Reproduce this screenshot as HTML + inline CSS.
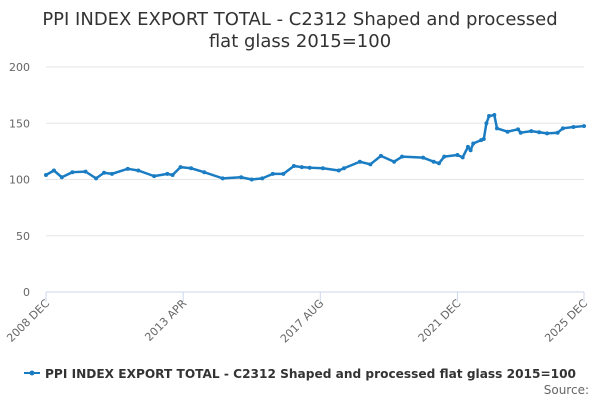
<!DOCTYPE html>
<html><head><meta charset="utf-8"><style>
body{margin:0;background:#fff;font-family:"DejaVu Sans","Liberation Sans",sans-serif;}
</style></head><body>
<svg id="chart" width="600" height="400" xmlns="http://www.w3.org/2000/svg" font-family="DejaVu Sans, Liberation Sans, sans-serif">
<text x="300" y="25" text-anchor="middle" font-size="18" fill="#333">PPI INDEX EXPORT TOTAL - C2312 Shaped and processed</text>
<text x="300" y="47" text-anchor="middle" font-size="18" fill="#333">flat glass 2015=100</text>
<g id="grid"></g><g id="xaxis"></g><g id="series"></g>
<g>
<line x1="24" y1="373" x2="40" y2="373" stroke="#1a7dc3" stroke-width="2"/>
<circle cx="32" cy="373" r="2.5" fill="#1a7dc3"/>
<text x="45" y="378" font-size="12.3" font-weight="bold" fill="#333" textLength="531" lengthAdjust="spacingAndGlyphs">PPI INDEX EXPORT TOTAL - C2312 Shaped and processed flat glass 2015=100</text>
</g>
<text x="589" y="394" text-anchor="end" font-size="12" fill="#666">Source:</text>
</svg>
<script>
const months=[0,3,6,10,15,19,22,25,31,35,41,46,48,51,55,60,67,74,78,82,86,90,94,97,100,105,111,113,119,123,127,132,135,143,147,149,151,156,158,160,161,162,165,166,167,168,170,171,175,179,180,184,187,190,194,196,200,204];
const values=[104,108,102,106.5,107,101,106,105,109.5,108,103,105,104,111,110,106.5,101,102,100,101,105,105,112,111,110.5,110,108,110,115.8,113.5,121,115.8,120.3,119.4,115.8,114.4,120.3,121.8,119.7,129,126,132,135,136,150,156.4,157.3,145.5,142.5,144.6,141.6,143,142,141,141.6,145.5,146.7,147.5];
const yTicks=[0,50,100,150,200];
const xLabels=["2008 DEC","2013 APR","2017 AUG","2021 DEC","2025 DEC"];
const xLabelMonths=[0,52,104,156,204];
const NS="http://www.w3.org/2000/svg";
const x0=46,x1=584,y0=292,y1=67;
function xs(m){return x0+(m/204)*(x1-x0);}
function ys(v){return y0-(v/200)*(y0-y1);}
const grid=document.getElementById('grid');
yTicks.forEach(t=>{
 const l=document.createElementNS(NS,'line');
 
 
 l.setAttribute('x1',x0);l.setAttribute('x2',x1);l.setAttribute('y1',ys(t));l.setAttribute('y2',ys(t));
 l.setAttribute('stroke',t===0?'#ccd6eb':'#e6e6e6');l.setAttribute('stroke-width','1');
 grid.appendChild(l);
 const tx=document.createElementNS(NS,'text');
 
 
 tx.setAttribute('x',30);tx.setAttribute('y',ys(t)+4);tx.setAttribute('text-anchor','end');
 tx.setAttribute('font-size','11');tx.setAttribute('fill','#666');tx.textContent=t;
 grid.appendChild(tx);
});
const xa=document.getElementById('xaxis');
xLabels.forEach((lab,i)=>{
 const x=xs(xLabelMonths[i]);
 const tk=document.createElementNS(NS,'line');
 
 
 tk.setAttribute('x1',x);tk.setAttribute('x2',x);tk.setAttribute('y1',292);tk.setAttribute('y2',302);
 tk.setAttribute('stroke','#ccd6eb');xa.appendChild(tk);
 const tx=document.createElementNS(NS,'text');
 
 
 tx.setAttribute('x',x+4);tx.setAttribute('y',304);tx.setAttribute('text-anchor','end');
 tx.setAttribute('font-size','11');tx.setAttribute('fill','#666');
 tx.setAttribute('transform','rotate(-45 '+(x+4)+' 304)');tx.textContent=lab;
 xa.appendChild(tx);
});
const s=document.getElementById('series');
const p=document.createElementNS(NS,'polyline');


p.setAttribute('points',months.map((m,i)=>xs(m)+','+ys(values[i])).join(' '));
p.setAttribute('fill','none');p.setAttribute('stroke','#1a7dc3');p.setAttribute('stroke-width','2.5');
p.setAttribute('stroke-linejoin','round');
s.appendChild(p);
months.forEach((m,i)=>{
 const c=document.createElementNS(NS,'circle');
 
 
 c.setAttribute('cx',xs(m));c.setAttribute('cy',ys(values[i]));c.setAttribute('r','2');
 c.setAttribute('fill','#1a7dc3');s.appendChild(c);
});
</script>
</body></html>
